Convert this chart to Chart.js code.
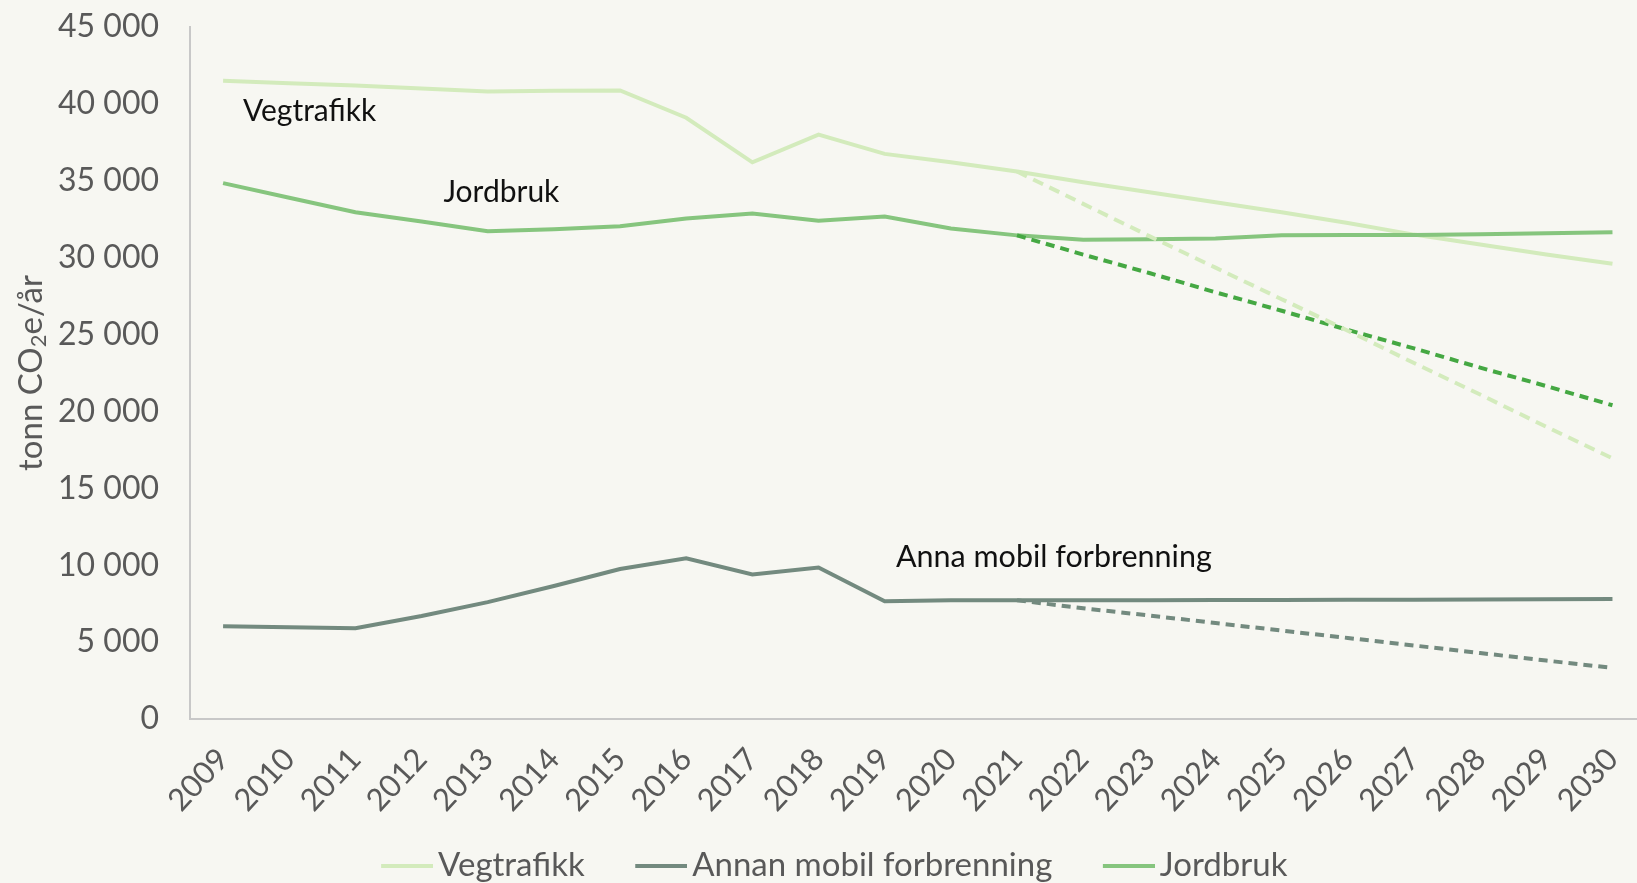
<!DOCTYPE html>
<html>
<head>
<meta charset="utf-8">
<script src="https://cdn.jsdelivr.net/npm/chart.js@4.4.0/dist/chart.umd.min.js"></script>
<style>
html, body { margin: 0; padding: 0; background: #f7f7f2; overflow: hidden; }
#wrap { width: 1637px; height: 883px; overflow: hidden; }
</style>
</head>
<body>
<div id="wrap"><canvas id="canvas" width="1662" height="892"></canvas></div>
<script>
"use strict"

const years = ['2009', '2010', '2011', '2012', '2013', '2014', '2015', '2016', '2017', '2018', '2019',
    '2020', '2021', '2022', '2023', '2024', '2025', '2026', '2027', '2028', '2029', '2030'];

const vegtrafikk = [41500, 41350, 41200, 41000, 40800, 40850, 40870, 39100, 36200, 38000, 36750,
    36200, 35600, 34900, 34250, 33600, 32950, 32250, 31500, 30850, 30200, 29600];
const annanMobil = [6030, 5960, 5900, 6700, 7600, 8650, 9750, 10450, 9400, 9850, 7650,
    7730, 7720, 7730, 7730, 7740, 7740, 7750, 7760, 7770, 7780, 7800];
const jordbruk = [34850, 33900, 32950, 32350, 31720, 31850, 32050, 32550, 32870, 32400, 32680,
    31900, 31450, 31170, 31200, 31250, 31450, 31470, 31470, 31520, 31580, 31650];

// tiltaksbaner fra 2021
const vegtrafikkMaal = [null, null, null, null, null, null, null, null, null, null, null,
    null, 35600, 33500, 31400, 29350, 27300, 25250, 23150, 21100, 19000, 16950];
const annanMobilMaal = [null, null, null, null, null, null, null, null, null, null, null,
    null, 7720, 7200, 6730, 6240, 5750, 5270, 4780, 4290, 3800, 3320];
const jordbrukMaal = [null, null, null, null, null, null, null, null, null, null, null,
    null, 31450, 30200, 29000, 27750, 26550, 25300, 24100, 22850, 21650, 20400];

const yTicks = [0, 5000, 10000, 15000, 20000, 25000, 30000, 35000, 40000, 45000];

// tekst i figuren: [tekst, x (kategori-indeks), y (verdi)]
const etiketter = [
    ['Vegtrafikk', 0.3, 39500],
    ['Jordbruk', 3.33, 34250],
    ['Anna mobil forbrenning', 10.17, 10550]
];

const FONT = 'Lato';
const GREY = '#595959';

function fmt(v){
    return String(v).replace(/\B(?=(\d{3})+(?!\d))/g, ' ');
}

// liten strek til forklaringen, tett inntil teksten
function legendStrek(farge){
    let c = document.createElement('canvas');
    c.width = 84;
    c.height = 4;
    let g = c.getContext('2d');
    g.fillStyle = farge;
    g.fillRect(32, 0, 52, 4);
    return c;
}

const etikettPlugin = {
    id: 'etiketter',
    afterDatasetsDraw(chart){
        const ctx = chart.ctx;
        const x = chart.scales.x, y = chart.scales.y;
        ctx.save();
        ctx.textAlign = 'left';
        ctx.textBaseline = 'middle';
        ctx.fillStyle = '#111111';
        etiketter.forEach(e => {
            ctx.font = (e[0].length > 12 ? '30.5px ' : '30px ') + FONT;
            const px = x.getPixelForValue(0) + e[1] * (x.getPixelForValue(1) - x.getPixelForValue(0));
            ctx.fillText(e[0], px, y.getPixelForValue(e[2]));
        });
        ctx.restore();
    }
};

// aksetittel med senket 2
const yTittel = {
    id: 'yTittel',
    afterDraw(chart){
        const ctx = chart.ctx;
        const a = chart.chartArea;
        const deler = [['tonn CO', 33, 0], ['2', 22, 8], ['e/år', 33, 0]];
        ctx.save();
        let total = 0;
        deler.forEach(d => { ctx.font = d[1] + 'px ' + FONT; total += ctx.measureText(d[0]).width; });
        ctx.translate(31, (a.top + a.bottom) / 2);
        ctx.rotate(-Math.PI / 2);
        ctx.fillStyle = GREY;
        ctx.textBaseline = 'middle';
        let cx = -total / 2;
        deler.forEach(d => {
            ctx.font = d[1] + 'px ' + FONT;
            ctx.fillText(d[0], cx, 0 + d[2]);
            cx += ctx.measureText(d[0]).width;
        });
        ctx.restore();
    }
};

function creaGrafico(){
    let ctx = document.getElementById('canvas').getContext('2d');
    let myChart = new Chart(ctx, {
        type: 'line',
        data: {
            labels: years,
            datasets: [{
                label: 'Vegtrafikk',
                data: vegtrafikk,
                borderColor: '#d3ebbc',
                backgroundColor: '#d3ebbc',
                borderWidth: 4,
                pointRadius: 0,
                pointStyle: legendStrek('#d3ebbc'),
                order: 3
            }, {
                label: 'Annan mobil forbrenning',
                data: annanMobil,
                borderColor: '#738a7f',
                backgroundColor: '#738a7f',
                borderWidth: 4,
                pointRadius: 0,
                pointStyle: legendStrek('#738a7f'),
                order: 2
            }, {
                label: 'Jordbruk',
                data: jordbruk,
                borderColor: '#86c57e',
                backgroundColor: '#86c57e',
                borderWidth: 4,
                pointRadius: 0,
                pointStyle: legendStrek('#86c57e'),
                order: 1
            }, {
                label: 'Vegtrafikk mål',
                data: vegtrafikkMaal,
                borderColor: '#d3ebbc',
                borderWidth: 4,
                borderDash: [11, 7],
                pointRadius: 0,
                order: 0
            }, {
                label: 'Annan mobil mål',
                data: annanMobilMaal,
                borderColor: '#738a7f',
                borderWidth: 4,
                borderDash: [9, 6],
                pointRadius: 0,
                order: 0
            }, {
                label: 'Jordbruk mål',
                data: jordbrukMaal,
                borderColor: '#45a843',
                borderWidth: 4,
                borderDash: [9, 6],
                pointRadius: 0,
                order: 0
            }]
        },
        options: {
            responsive: false,
            animation: false,
            devicePixelRatio: 1,
            layout: { autoPadding: false, padding: { top: 27, right: 14, left: 0, bottom: 0 } },
            plugins: {
                legend: {
                    position: 'bottom',
                    labels: {
                        usePointStyle: true,
                        pointStyleWidth: 61,
                        boxHeight: 4,
                        color: GREY,
                        font: { family: FONT, size: 33 },
                        padding: 30,
                        filter: item => item.datasetIndex < 3,
                        sort: (a, b) => a.datasetIndex - b.datasetIndex
                    }
                },
                tooltip: { enabled: false }
            },
            scales: {
                x: {
                    offset: true,
                    grid: { display: false, drawTicks: false },
                    border: { display: true, color: '#c8c8c8', width: 2 },
                    ticks: {
                        autoSkip: false,
                        minRotation: 47,
                        maxRotation: 47,
                        padding: 22,
                        color: GREY,
                        font: { family: FONT, size: 31 }
                    },
                    afterFit(scale){ scale.height = 100; }
                },
                y: {
                    min: 0,
                    max: 45000,
                    afterBuildTicks(scale){ scale.ticks = yTicks.map(v => ({ value: v })); },
                    grid: { display: false, drawTicks: false },
                    border: { display: true, color: '#c8c8c8', width: 2 },
                    ticks: {
                        padding: 31,
                        color: GREY,
                        font: { family: FONT, size: 32 },
                        callback: v => fmt(v)
                    },
                    afterFit(scale){
                        scale.width = 190;
                        scale.paddingTop = 0;
                        scale.paddingBottom = 0;
                    }
                }
            }
        },
        plugins: [etikettPlugin, yTittel]
    });
}

creaGrafico();
</script>
</body>
</html>
